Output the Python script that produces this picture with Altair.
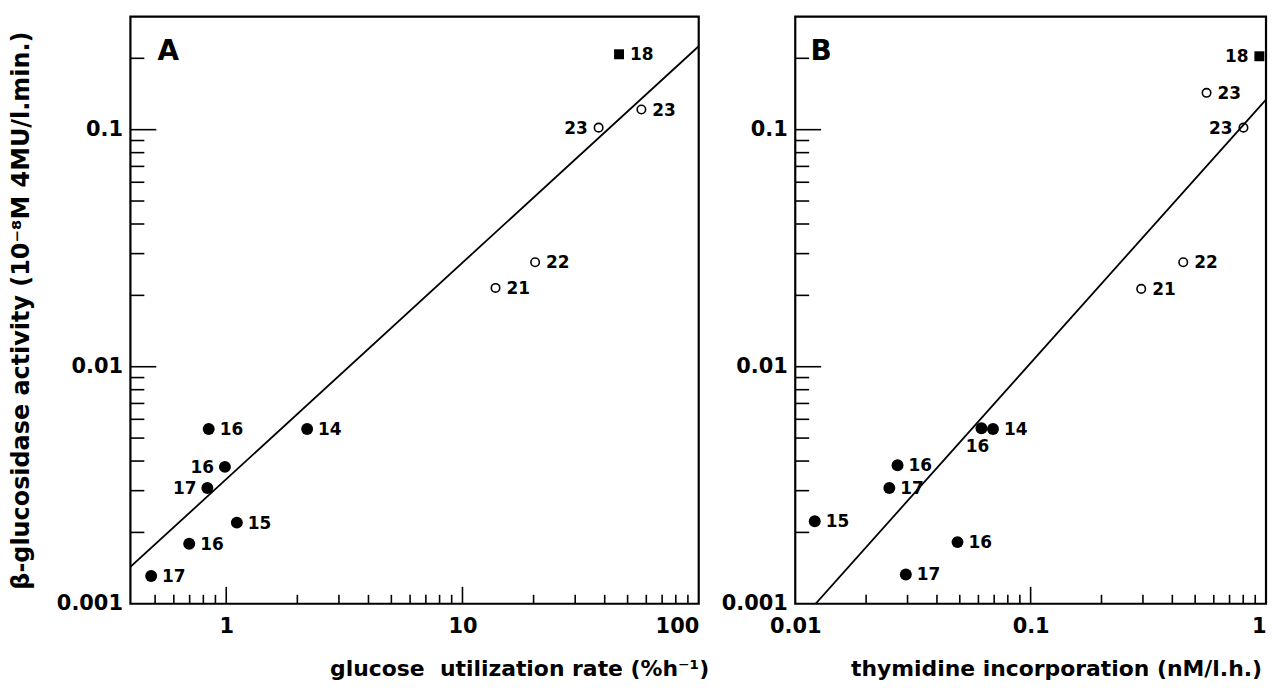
import altair as alt
import pandas as pd

# ---------------- data ----------------
# Panel A : glucose utilization rate vs beta-glucosidase activity
A_X = [46.0, 57.2, 37.7, 20.3, 13.8, 2.20, 0.843, 0.987, 0.832, 1.109, 0.697, 0.481]
A_Y = [0.208, 0.1216, 0.102, 0.0276, 0.0215, 0.00546, 0.00546, 0.00378, 0.00308, 0.00220, 0.00179, 0.00131]
A_LABEL = ["18", "23", "23", "22", "21", "14", "16", "16", "17", "15", "16", "17"]
A_KIND = ["square", "open", "open", "open", "open", "filled", "filled", "filled", "filled", "filled", "filled", "filled"]
A_SIDE = ["right", "right", "left", "right", "right", "right", "right", "left", "left", "right", "right", "right"]
A_LINE_X = [0.393, 100.0]
A_LINE_Y = [0.00143, 0.225]

# Panel B : thymidine incorporation vs beta-glucosidase activity
B_X = [0.937, 0.559, 0.802, 0.445, 0.295, 0.0692, 0.0618, 0.0272, 0.0251, 0.0121, 0.0489, 0.0295]
B_Y = [0.204, 0.143, 0.102, 0.0276, 0.0213, 0.00546, 0.00550, 0.00384, 0.00308, 0.00223, 0.00182, 0.00133]
B_LABEL = ["18", "23", "23", "22", "21", "14", "16", "16", "17", "15", "16", "17"]
B_KIND = ["square", "open", "open", "open", "open", "filled", "filled", "filled", "filled", "filled", "filled", "filled"]
B_SIDE = ["left", "right", "left", "right", "right", "right", "below", "right", "right", "right", "right", "right"]
B_LINE_X = [0.0122, 1.0]
B_LINE_Y = [0.001, 0.134]

# axes
Y_DOMAIN = [0.001, 0.3]
A_X_DOMAIN = [0.393, 100.0]
B_X_DOMAIN = [0.01, 1.0]
Y_TICK_LABELS = [0.001, 0.01, 0.1]
A_TICK_LABELS = [1, 10, 100]
B_TICK_LABELS = [0.01, 0.1, 1]
Y_MAJOR = [0.01, 0.1]
Y_MINOR = [0.002, 0.003, 0.004, 0.005, 0.006, 0.007, 0.008, 0.009,
           0.02, 0.03, 0.04, 0.05, 0.06, 0.07, 0.08, 0.09, 0.2]
A_X_MAJOR = [1, 10]
A_X_MINOR = [0.5, 0.6, 0.7, 0.8, 0.9, 2, 3, 4, 5, 6, 7, 8, 9,
             20, 30, 40, 50, 60, 70, 80, 90]
B_X_MAJOR = [0.1]
B_X_MINOR = [0.02, 0.03, 0.04, 0.05, 0.06, 0.07, 0.08, 0.09,
             0.2, 0.3, 0.4, 0.5, 0.6, 0.7, 0.8, 0.9]

Y_TITLE = "β-glucosidase activity (10⁻⁸M 4MU/l.min.)"
A_X_TITLE = "glucose\u00a0\u00a0utilization rate (%h⁻¹)"
B_X_TITLE = "thymidine incorporation (nM/l.h.)"

FONT = "DejaVu Sans"
H = 590
W_A = 571
W_B = 473


def panel(xs, ys, labels, kinds, sides, line_x, line_y, xdom, xmaj, xmin,
          width, letter, letter_x, xaxis, yaxis):
    pts = pd.DataFrame({"x": xs, "y": ys, "label": labels, "kind": kinds, "side": sides})
    line_df = pd.DataFrame({"x": line_x, "y": line_y})
    xsc = alt.Scale(type="log", domain=xdom, nice=False)
    ysc = alt.Scale(type="log", domain=Y_DOMAIN, nice=False)

    def X(f="x"):
        return alt.X(f + ":Q", scale=xsc, axis=xaxis)

    def Y(f="y"):
        return alt.Y(f + ":Q", scale=ysc, axis=yaxis)

    line = alt.Chart(line_df).mark_line(color="black", strokeWidth=1.8, clip=True).encode(
        x=X(), y=Y())

    def yticks(vals, length):
        return alt.Chart(pd.DataFrame({"v": vals})).mark_rule(color="black", strokeWidth=1.6).encode(
            y=Y("v"), x=alt.value(0), x2=alt.value(length))

    def xticks(vals, length):
        return alt.Chart(pd.DataFrame({"v": vals})).mark_rule(color="black", strokeWidth=1.6).encode(
            x=X("v"), y=alt.value(H), y2=alt.value(H - length))

    base = alt.Chart(pts).encode(x=X(), y=Y())
    filled = base.transform_filter("datum.kind == 'filled'").mark_point(
        shape="circle", filled=True, size=144, color="black", opacity=1)
    opened = base.transform_filter("datum.kind == 'open'").mark_point(
        shape="circle", filled=False, size=72, color="black", strokeWidth=1.6, opacity=1)
    square = base.transform_filter("datum.kind == 'square'").mark_point(
        shape="square", filled=True, size=100, color="black", opacity=1)

    tstyle = dict(font=FONT, fontSize=17, fontWeight="bold", color="black", baseline="middle")
    t_right = base.transform_filter("datum.side == 'right'").mark_text(
        align="left", dx=11, dy=1, **tstyle).encode(text="label:N")
    t_left = base.transform_filter("datum.side == 'left'").mark_text(
        align="right", dx=-11, dy=1, **tstyle).encode(text="label:N")
    t_below = base.transform_filter("datum.side == 'below'").mark_text(
        align="center", dx=-4, dy=19, **tstyle).encode(text="label:N")

    let = alt.Chart(pd.DataFrame({"t": [letter]})).mark_text(
        font=FONT, fontSize=28, fontWeight="bold", color="black", align="center", baseline="middle"
    ).encode(x=alt.value(letter_x), y=alt.value(36), text="t:N")

    return alt.layer(
        line, yticks(Y_MINOR, 14), yticks(Y_MAJOR, 26), xticks(xmin, 9), xticks(xmaj, 17),
        filled, opened, square, t_right, t_left, t_below, let
    ).properties(width=width, height=H)


lab = dict(labelFont=FONT, labelFontWeight="bold", labelFontSize=21, labelColor="black",
           ticks=False, tickSize=0, domain=False, grid=False, format="~g")
ttl = dict(titleFont=FONT, titleFontWeight="bold", titleColor="black")

yaxis_a = alt.Axis(values=Y_TICK_LABELS, labelPadding=8, minExtent=74, maxExtent=74,
                   title=Y_TITLE, titleFontSize=24, titlePadding=23, **lab, **ttl)
yaxis_b = alt.Axis(values=Y_TICK_LABELS, labelPadding=8, title=None, **lab)
xaxis_a = alt.Axis(values=A_TICK_LABELS, labelPadding=12, title=A_X_TITLE, titleFontSize=22,
                   titlePadding=22, titleX=581, titleAlign="right", **lab, **ttl)
xaxis_b = alt.Axis(values=B_TICK_LABELS, labelPadding=12, title=B_X_TITLE, titleFontSize=22,
                   titlePadding=22, titleX=262, titleAlign="center",
                   labelAlign={"condition": {"test": "datum.value >= 0.99", "value": "right"},
                               "value": "center"},
                   **lab, **ttl)

pa = panel(A_X, A_Y, A_LABEL, A_KIND, A_SIDE, A_LINE_X, A_LINE_Y, A_X_DOMAIN,
           A_X_MAJOR, A_X_MINOR, W_A, "A", 38, xaxis_a, yaxis_a)
pb = panel(B_X, B_Y, B_LABEL, B_KIND, B_SIDE, B_LINE_X, B_LINE_Y, B_X_DOMAIN,
           B_X_MAJOR, B_X_MINOR, W_B, "B", 26, xaxis_b, yaxis_b)

chart = alt.hconcat(pa, pb, spacing=97, bounds="flush").properties(
    padding={"left": 0, "top": 5, "right": 0, "bottom": 0},
    background="white",
).configure_view(stroke="black", strokeWidth=2.2)

chart.save("out.html", embed_options={"renderer": "svg", "actions": False})
